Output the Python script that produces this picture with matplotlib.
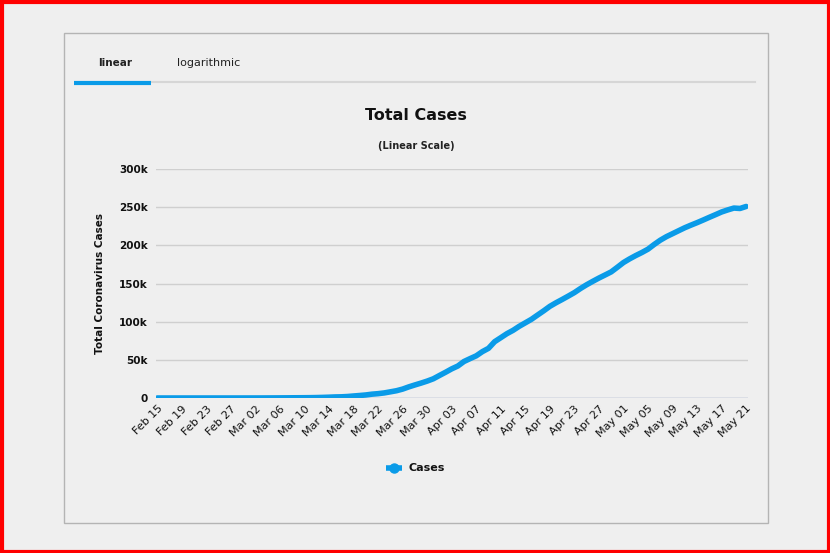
import numpy as np
import matplotlib.pyplot as plt
from matplotlib.patches import Rectangle
from matplotlib.lines import Line2D
from matplotlib.ticker import FuncFormatter

# daily totals, Feb 15 .. May 21
cases = [9, 9, 9, 9, 9, 9, 9, 9, 9, 13, 13, 13, 15, 20, 23,
         36, 40, 51, 85, 114, 160, 206, 271, 321, 373, 456, 590, 797, 1061,
         1391, 1543, 1950, 2626, 3269, 3983, 5018, 5683, 6650, 8077, 9529,
         11658, 14543, 17089, 19522, 22141, 25150,
         29474, 33718, 38168, 41903, 47806, 51608, 55242, 60733, 65077,
         73758, 78991, 84279, 88621, 93873, 98476, 103093, 108692, 114217,
         120067, 124743, 129044, 133495, 138078, 143464, 148377, 152840,
         157149, 161145, 165221, 171253,
         177454, 182260, 186599, 190584, 194990, 201101, 206715, 211364,
         215260, 219183, 223060, 226463, 229705, 233151, 236711, 240161,
         243695, 246406, 248818, 248293, 250908]
tick_labels = ['Feb 15', 'Feb 19', 'Feb 23', 'Feb 27', 'Mar 02', 'Mar 06',
               'Mar 10', 'Mar 14', 'Mar 18', 'Mar 22', 'Mar 26', 'Mar 30',
               'Apr 03', 'Apr 07', 'Apr 11', 'Apr 15', 'Apr 19', 'Apr 23',
               'Apr 27', 'May 01', 'May 05', 'May 09', 'May 13', 'May 17',
               'May 21']
y_ticks = [0, 50000, 100000, 150000, 200000, 250000, 300000]

days = np.arange(len(cases))
blue = '#0a9be8'
bg = '#efefef'

fig = plt.figure(figsize=(8.3, 5.53), dpi=100, facecolor=bg)
W, H = 830, 553

# outer red frame and the inner panel
fig.patches.append(Rectangle((1.5 / W, 1.5 / H), 1 - 3 / W, 1 - 3 / H, transform=fig.transFigure,
                             fill=False, edgecolor='#ff0000', linewidth=3))
fig.patches.append(Rectangle((64 / W, 1 - 523 / H), 704 / W, 490 / H, transform=fig.transFigure,
                             fill=False, edgecolor='#b4b4b4', linewidth=1))

# tabs
fig.text(115 / W, 1 - 63 / H, 'linear', ha='center', va='center', fontsize=7.5, fontweight='bold', color='#222222')
fig.text(209 / W, 1 - 63 / H, 'logarithmic', ha='center', va='center', fontsize=8, color='#222222')
fig.lines.append(Line2D([151 / W, 755 / W], [1 - 82 / H, 1 - 82 / H], transform=fig.transFigure,
                        color='#d6d6d6', linewidth=1.5))
fig.lines.append(Line2D([74 / W, 151 / W], [1 - 83 / H, 1 - 83 / H], transform=fig.transFigure,
                        color=blue, linewidth=3, solid_capstyle='butt'))

# titles
fig.text(416 / W, 1 - 115 / H, 'Total Cases', ha='center', va='center', fontsize=11.5, fontweight='bold', color='#111111')
fig.text(416 / W, 1 - 146 / H, '(Linear Scale)', ha='center', va='center', fontsize=7, fontweight='bold', color='#222222')

ax = fig.add_axes([156 / W, 155 / H, 592 / W, 229 / H])
ax.set_facecolor(bg)
ax.plot(days, cases, color=blue, linewidth=4, solid_capstyle='round', solid_joinstyle='round', zorder=3)
ax.set_xlim(-0.2, 96.3)
ax.set_ylim(0, 300000)
ax.set_yticks(y_ticks)
ax.yaxis.set_major_formatter(FuncFormatter(lambda v, p: '0' if v == 0 else f'{int(v / 1000)}k'))
ax.set_xticks(np.arange(0, len(cases), 4))
ax.set_xticklabels(tick_labels, rotation=45, ha='right', rotation_mode='anchor')
ax.grid(axis='y', color='#cfcfcf', linewidth=1)
ax.axhline(0, color='#a9b9dd', linewidth=1, zorder=2)
for s in ax.spines.values():
    s.set_visible(False)
ax.tick_params(axis='both', length=0, colors='#111111')
ax.tick_params(axis='y', pad=6, labelsize=7.5)
ax.tick_params(axis='x', pad=4, labelsize=8)
for lbl in ax.get_yticklabels():
    lbl.set_fontweight('bold')
ax.set_ylabel('Total Coronavirus Cases', fontsize=7.5, fontweight='bold', color='#111111', labelpad=10)

# legend
fig.lines.append(Line2D([386 / W, 402 / W], [1 - 468 / H, 1 - 468 / H], transform=fig.transFigure,
                        color=blue, linewidth=4, solid_capstyle='butt'))
fig.lines.append(Line2D([394 / W], [1 - 468 / H], transform=fig.transFigure,
                        color=blue, marker='o', markersize=6.5, linestyle='none'))
fig.text(408 / W, 1 - 468 / H, 'Cases', ha='left', va='center', fontsize=8, fontweight='bold', color='#111111')

fig.savefig('out.png', dpi=100, facecolor=bg)
